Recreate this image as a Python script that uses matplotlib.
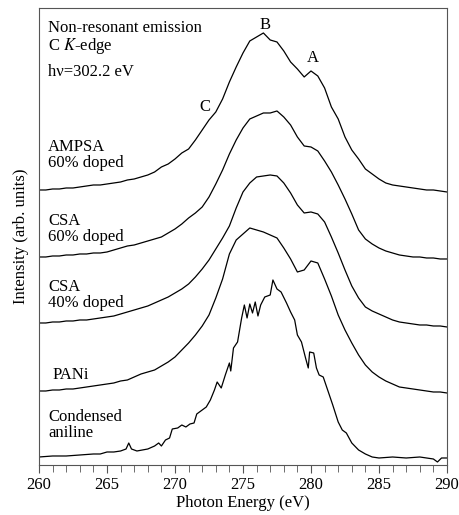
import numpy as np
import matplotlib
matplotlib.use('Agg')
import matplotlib.pyplot as plt

plt.rcParams['font.family'] = ['Liberation Serif', 'DejaVu Serif']
plt.rcParams['mathtext.fontset'] = 'stix'

# data read from the picture (vertical values measured downward from the frame top,
# converted to intensity below)
energy = np.arange(260, 290.01, 0.5)

ampsa = [190, 190, 189, 189, 188, 188, 187, 186, 185, 185,
         184, 183, 182, 180, 179, 177, 175, 172, 167, 164,
         159, 153, 149, 140, 130, 120, 112, 99, 82, 67,
         53, 41, 37, 33, 40, 42, 51, 62, 69, 77,
         71, 76, 88, 107, 119, 137, 150, 159, 169, 174,
         179, 183, 185, 186, 187, 188, 189, 190, 190, 191, 192]

csa60 = [257, 257, 256, 256, 255, 255, 254, 254, 253, 253,
         252, 250, 248, 246, 245, 243, 241, 239, 237, 233,
         229, 224, 218, 213, 207, 197, 184, 170, 154, 140,
         128, 119, 116, 113, 113, 111, 117, 125, 137, 146,
         147, 151, 161, 172, 185, 199, 214, 230, 239, 244,
         248, 251, 253, 255, 256, 257, 257, 258, 258, 259, 259]

csa40 = [323, 323, 322, 322, 321, 321, 320, 320, 319, 318,
         317, 316, 314, 312, 310, 308, 306, 303, 300, 297,
         293, 289, 284, 277, 269, 260, 249, 238, 226, 208,
         192, 183, 177, 176, 175, 176, 183, 193, 205, 213,
         212, 214, 222, 237, 253, 270, 286, 298, 307, 311,
         314, 317, 320, 322, 323, 324, 325, 325, 326, 326, 327]

pani = [391, 391, 390, 390, 389, 389, 388, 387, 386, 385,
        384, 383, 381, 380, 377, 374, 372, 370, 366, 362,
        357, 350, 343, 335, 326, 315, 298, 279, 254, 240,
        234, 228, 230, 232, 235, 238, 248, 259, 272, 270,
        261, 263, 279, 296, 315, 330, 343, 355, 365, 372,
        377, 381, 384, 387, 388, 389, 390, 391, 392, 392, 393]

energy_aniline = [260, 261, 262, 263, 264, 264.5, 265, 265.5, 266, 266.4,
                  266.6, 266.8, 267.2, 267.6, 268, 268.5, 268.8, 269, 269.3, 269.6,
                  269.8, 270.2, 270.5, 270.8, 271.1, 271.4, 271.6, 272, 272.3, 272.6,
                  272.9, 273.1, 273.4, 273.7, 274, 274.1, 274.3, 274.6, 274.9, 275.1,
                  275.3, 275.5, 275.7, 275.9, 276.1, 276.3, 276.6, 277, 277.2, 277.5,
                  277.8, 278.2, 278.5, 278.8, 279, 279.3, 279.6, 279.8, 279.9, 280.2,
                  280.4, 280.6, 280.9, 281.3, 281.6, 282, 282.3, 282.6, 283, 283.5,
                  284, 284.5, 285, 286, 287, 288, 288.5, 289, 289.3, 289.6, 290]
aniline = [457, 456, 456, 455, 454, 454, 452, 452, 451, 449,
           443, 449, 451, 450, 449, 446, 443, 446, 440, 438,
           429, 428, 425, 427, 424, 423, 414, 410, 407, 400,
           390, 382, 388, 375, 363, 371, 348, 342, 318, 305,
           318, 304, 313, 302, 316, 305, 297, 295, 280, 289,
           292, 303, 312, 320, 335, 342, 358, 368, 352, 353,
           368, 375, 377, 393, 405, 422, 430, 433, 443, 450,
           454, 457, 458, 457, 458, 457, 458, 459, 462, 458, 458]

labels = ['AMPSA\n60% doped', 'CSA\n60% doped', 'CSA\n40% doped', 'PANi', 'Condensed\naniline']
label_y = [310, 236, 170, 90, 40]
peaks = ['C', 'B', 'A']
peak_x = [272.2, 276.6, 280.1]
peak_y = [358, 440, 407]

frame_top = 465

fig = plt.figure(figsize=(4.6, 5.15), dpi=100)
ax = fig.add_axes([0.0848, 0.0971, 0.8869, 0.8874])

for vals in [ampsa, csa60, csa40, pani]:
    ax.plot(energy, frame_top - np.array(vals), color='black', lw=0.9)
ax.plot(energy_aniline, frame_top - np.array(aniline), color='black', lw=0.9)

ax.text(260.66, 427, 'Non-resonant emission\nC $\\it{K}$-edge', fontsize=12,
        ha='left', va='center', linespacing=1.05)
ax.text(260.66, 393, 'h\u03bd=302.2 eV', fontsize=12, ha='left', va='center')

for lab, y in zip(labels, label_y):
    xx = 260.96 if lab == 'PANi' else 260.66
    ax.text(xx, y, lab, fontsize=12, ha='left', va='center', linespacing=1.05)

for p, x, y in zip(peaks, peak_x, peak_y):
    ax.text(x, y, p, fontsize=12, ha='center', va='center')

ax.set_xlim(260, 290)
ax.set_ylim(0, 457)
ax.set_xticks(np.arange(260, 291, 5))
ax.set_xticks(np.arange(260, 291, 1), minor=True)
ax.set_yticks([])
ax.tick_params(axis='x', which='major', direction='out', length=6, labelsize=12,
               color='#555555', pad=3)
ax.tick_params(axis='x', which='minor', direction='out', length=5, color='#555555')
for s in ax.spines.values():
    s.set_color('#555555')
ax.set_xlabel('Photon Energy (eV)', fontsize=12, labelpad=1)
ax.set_ylabel('Intensity (arb. units)', fontsize=12, labelpad=7)

fig.savefig('out.png', dpi=100)
